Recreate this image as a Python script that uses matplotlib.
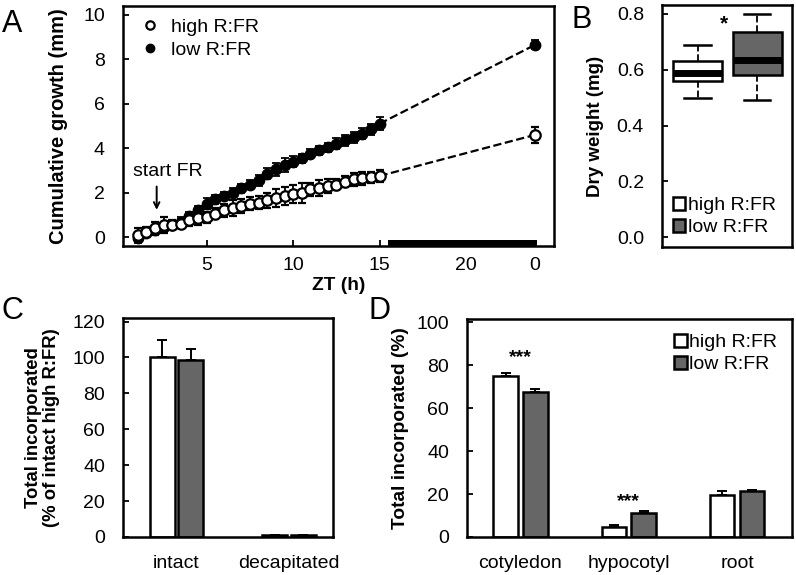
import numpy as np
import matplotlib.pyplot as plt
from matplotlib.patches import Patch
from matplotlib.lines import Line2D

plt.rcParams['font.family'] = ['Liberation Sans', 'DejaVu Sans']
plt.rcParams['axes.linewidth'] = 1.8

# Panel A data: cumulative growth (mm)
zt = [1, 1.5, 2, 2.5, 3, 3.5, 4, 4.5, 5, 5.5, 6, 6.5, 7, 7.5, 8, 8.5, 9, 9.5,
      10, 10.5, 11, 11.5, 12, 12.5, 13, 13.5, 14, 14.5, 15, 24]
high_growth = [0.1, 0.25, 0.4, 0.55, 0.55, 0.6, 0.75, 0.85, 0.9, 1.05, 1.2, 1.3,
               1.4, 1.5, 1.55, 1.65, 1.75, 1.85, 1.95, 2.0, 2.15, 2.2, 2.3, 2.35,
               2.5, 2.6, 2.65, 2.7, 2.75, 4.6]
high_err = [0.3, 0.2, 0.3, 0.35, 0.2, 0.2, 0.25, 0.3, 0.25, 0.25, 0.3, 0.35,
            0.3, 0.3, 0.3, 0.35, 0.4, 0.4, 0.4, 0.45, 0.3, 0.35, 0.3, 0.25,
            0.25, 0.3, 0.3, 0.25, 0.25, 0.35]
low_growth = [-0.05, 0.2, 0.3, 0.45, 0.55, 0.7, 0.95, 1.2, 1.5, 1.7, 1.85, 2.0,
              2.2, 2.35, 2.55, 2.85, 3.05, 3.25, 3.4, 3.55, 3.75, 3.9, 4.05, 4.2,
              4.35, 4.5, 4.65, 4.85, 5.1, 8.65]
low_err = [0.2, 0.2, 0.2, 0.25, 0.2, 0.2, 0.2, 0.2, 0.25, 0.2, 0.2, 0.2,
           0.2, 0.2, 0.25, 0.25, 0.3, 0.3, 0.25, 0.2, 0.2, 0.2, 0.2, 0.25,
           0.25, 0.25, 0.25, 0.25, 0.3, 0.2]
zt_ticks = [5, 10, 15, 20, 24]
zt_labels = ['5', '10', '15', '20', '0']
night_start, night_end = 15.5, 24.1
start_fr = 2.1

# Panel B data: dry weight (mg) box stats
b_whislo = [0.50, 0.49]
b_q1 = [0.56, 0.58]
b_med = [0.59, 0.635]
b_q3 = [0.63, 0.735]
b_whishi = [0.69, 0.80]

# Panel C data
c_groups = ['intact', 'decapitated']
c_high = [100, 1.0]
c_high_err = [10, 0.3]
c_low = [98.5, 1.0]
c_low_err = [6, 0.3]

# Panel D data
d_groups = ['cotyledon', 'hypocotyl', 'root']
d_high = [75.0, 4.6, 19.5]
d_high_err = [1.5, 1.0, 1.7]
d_low = [67.3, 11.0, 21.2]
d_low_err = [1.5, 0.9, 0.7]

gray = '#666666'
fs = 14
lfs = 13.8

fig = plt.figure(figsize=(7.96, 5.75), dpi=100)

# ---------- A ----------
axA = fig.add_axes([0.1545, 0.5722, 0.5415, 0.4174])
ekw = dict(fmt='o', ms=7.5, mec='black', ecolor='black', elinewidth=1.3,
           capsize=3, capthick=1.3)
axA.errorbar(zt[:-1], low_growth[:-1], yerr=low_err[:-1], mfc='black', **ekw)
axA.errorbar(zt[:-1], high_growth[:-1], yerr=high_err[:-1], mfc='white', mew=1.6, **ekw)
axA.errorbar(zt[-1:], low_growth[-1:], yerr=low_err[-1:], mfc='black', **ekw)
axA.errorbar(zt[-1:], high_growth[-1:], yerr=high_err[-1:], mfc='white', mew=1.6, **ekw)
axA.plot(zt[-2:], low_growth[-2:], '--', color='black', lw=1.6, zorder=1)
axA.plot(zt[-2:], high_growth[-2:], '--', color='black', lw=1.6, zorder=1)
axA.fill_between([night_start, night_end], -0.4, -0.13, color='black', lw=0)
axA.annotate('', xy=(start_fr, 1.1), xytext=(start_fr, 2.4),
             arrowprops=dict(arrowstyle='->', color='black', lw=1.4))
axA.text(start_fr + 0.65, 2.95, 'start FR', ha='center', va='center', fontsize=fs)
axA.set_xlim(0.15, 25.1)
axA.set_ylim(-0.4, 10.4)
axA.set_yticks([0, 2, 4, 6, 8, 10])
axA.set_xticks(zt_ticks)
axA.set_xticklabels(zt_labels)
axA.tick_params(axis='y', direction='in', length=4, width=1.3, pad=13, labelsize=fs)
axA.tick_params(axis='x', direction='in', length=4, width=1.3, pad=8, labelsize=fs)
axA.set_ylabel('Cumulative growth (mm)', fontsize=14.5, fontweight='bold', labelpad=11)
axA.set_xlabel('ZT (h)', fontsize=lfs, fontweight='bold', labelpad=2)
axA.legend(handles=[
    Line2D([], [], marker='o', ls='', mfc='white', mec='black', mew=1.6, ms=6),
    Line2D([], [], marker='o', ls='', mfc='black', mec='black', ms=6)],
    labels=['high R:FR', 'low R:FR'], loc='upper left', frameon=False,
    fontsize=fs, handletextpad=0.3, borderaxespad=0.25, labelspacing=0.25, handlelength=1.5)

# ---------- B ----------
axB = fig.add_axes([0.8317, 0.5704, 0.1633, 0.4209])
stats = []
for i in range(2):
    stats.append(dict(whislo=b_whislo[i], q1=b_q1[i], med=b_med[i], q3=b_q3[i],
                      whishi=b_whishi[i], fliers=[]))
bp = axB.bxp(stats, positions=[1, 2], widths=0.82, patch_artist=True, showfliers=False,
             boxprops=dict(lw=1.8, edgecolor='black'),
             medianprops=dict(color='black', lw=5, solid_capstyle='butt'),
             whiskerprops=dict(ls='--', lw=1.3, color='black'),
             capprops=dict(lw=1.8, color='black'), capwidths=0.44)
for patch, c in zip(bp['boxes'], ['white', gray]):
    patch.set_facecolor(c)
axB.text(1.45, 0.765, '*', ha='center', va='center', fontsize=fs + 1, fontweight='bold')
axB.set_xlim(0.405, 2.585)
axB.set_ylim(-0.035, 0.832)
axB.set_xticks([])
axB.set_yticks([0.0, 0.2, 0.4, 0.6, 0.8])
axB.set_yticklabels(['0.0', '0.2', '0.4', '0.6', '0.8'])
axB.tick_params(axis='y', direction='in', length=4, width=1.3, pad=13, labelsize=fs)
axB.set_ylabel('Dry weight (mg)', fontsize=13.5, fontweight='bold', labelpad=9)
sq_handles = [Patch(facecolor='white', edgecolor='black', lw=1.8),
              Patch(facecolor=gray, edgecolor='black', lw=1.8)]
axB.legend(handles=sq_handles, labels=['high R:FR', 'low R:FR'], loc='lower left',
           frameon=False, fontsize=fs, handlelength=0.65, handleheight=0.65,
           handletextpad=0.12, borderaxespad=0.15, labelspacing=0.25)

# ---------- C ----------
axC = fig.add_axes([0.1545, 0.0661, 0.2638, 0.3809])
xc = np.arange(len(c_groups))
bw = 0.22
off = 0.127
bkw = dict(lw=1.4, capsize=3.6, capthick=1.4)
axC.bar(xc - off, c_high, bw, yerr=[np.zeros(2), c_high_err], color='white',
        edgecolor='black', lw=1.8, error_kw=bkw)
axC.bar(xc + off, c_low, bw, yerr=[np.zeros(2), c_low_err], color=gray,
        edgecolor='black', lw=1.8, error_kw=bkw)
axC.set_xlim(-0.476, 1.39)
axC.set_ylim(0, 122)
axC.set_yticks(range(0, 121, 20))
axC.set_xticks(xc)
axC.set_xticklabels(c_groups)
axC.tick_params(axis='y', direction='in', length=4, width=1.3, pad=13, labelsize=fs)
axC.tick_params(axis='x', length=0, pad=13, labelsize=fs)
axC.set_ylabel('Total incorporated\n(% of intact high R:FR)', fontsize=13.3,
               fontweight='bold', labelpad=9, linespacing=1.05)

# ---------- D ----------
axD = fig.add_axes([0.5867, 0.0661, 0.4083, 0.3791])
xd = np.arange(len(d_groups))
bw = 0.226
off = 0.138
axD.bar(xd - off, d_high, bw, yerr=[np.zeros(3), d_high_err], color='white',
        edgecolor='black', lw=1.8, error_kw=bkw)
axD.bar(xd + off, d_low, bw, yerr=[np.zeros(3), d_low_err], color=gray,
        edgecolor='black', lw=1.8, error_kw=bkw)
axD.text(0, 83.5, '***', ha='center', va='center', fontsize=fs, fontweight='bold')
axD.text(1, 16.5, '***', ha='center', va='center', fontsize=fs, fontweight='bold')
axD.set_xlim(-0.494, 2.508)
axD.set_ylim(0, 101.5)
axD.set_yticks(range(0, 101, 20))
axD.set_xticks(xd)
axD.set_xticklabels(d_groups)
axD.tick_params(axis='y', direction='in', length=4, width=1.3, pad=13, labelsize=fs)
axD.tick_params(axis='x', length=0, pad=13, labelsize=fs)
axD.set_ylabel('Total incorporated (%)', fontsize=lfs, fontweight='bold', labelpad=5)
axD.legend(handles=sq_handles, labels=['high R:FR', 'low R:FR'], loc='upper right',
           frameon=False, fontsize=fs, handlelength=0.65, handleheight=0.65,
           handletextpad=0.12, borderaxespad=0.35, labelspacing=0.25)

# panel letters
for lbl, x, y in [('A', 0.002, 0.985), ('B', 0.718, 0.992), ('C', 0.002, 0.486), ('D', 0.463, 0.486)]:
    fig.text(x, y, lbl, fontsize=22, ha='left', va='top')

fig.savefig('out.png', dpi=100)
